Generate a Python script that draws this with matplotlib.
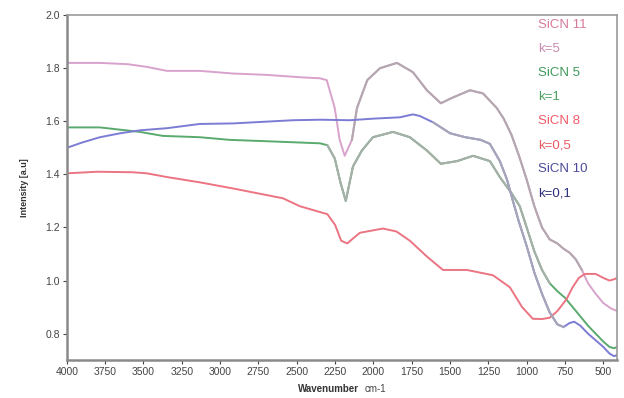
import numpy as np
import matplotlib
matplotlib.use('Agg')
from matplotlib import pyplot as plt

plt.rcParams['font.family'] = ['Liberation Sans', 'DejaVu Sans']

# SiCN 11, k=5
wn_11 = [4000, 3784, 3600, 3478, 3347, 3132, 2916, 2700, 2479, 2348, 2304, 2252, 2220, 2187,
         2140, 2107, 2040, 1957, 1846, 1742, 1651, 1560, 1480, 1370, 1285, 1195, 1150, 1100,
         1050, 1000, 950, 900, 850, 800, 760, 720, 680, 640, 600, 550, 500, 450, 410]
int_11 = [1.82, 1.82, 1.815, 1.805, 1.79, 1.79, 1.78, 1.775, 1.766, 1.762, 1.755, 1.65, 1.53, 1.47,
          1.53, 1.65, 1.755, 1.80, 1.82, 1.785, 1.717, 1.668, 1.69, 1.717, 1.705, 1.65, 1.61, 1.55,
          1.47, 1.38, 1.28, 1.20, 1.155, 1.14, 1.12, 1.105, 1.08, 1.04, 0.99, 0.95, 0.915, 0.895, 0.885]

# SiCN 5, k=1
wn_5 = [4000, 3784, 3523, 3373, 3132, 2936, 2700, 2479, 2348, 2300, 2252, 2215, 2180, 2133,
        2075, 2003, 1872, 1762, 1651, 1560, 1454, 1350, 1240, 1175, 1100, 1045, 1000, 950,
        900, 850, 800, 750, 700, 650, 600, 550, 500, 460, 430, 410]
int_5 = [1.577, 1.577, 1.56, 1.545, 1.54, 1.53, 1.525, 1.52, 1.517, 1.51, 1.46, 1.37, 1.30, 1.43,
         1.49, 1.54, 1.56, 1.54, 1.49, 1.44, 1.45, 1.47, 1.45, 1.39, 1.33, 1.28, 1.20, 1.11,
         1.04, 0.99, 0.96, 0.935, 0.90, 0.865, 0.83, 0.80, 0.77, 0.75, 0.745, 0.75]

# SiCN 8, k=0,5
wn_8 = [4000, 3800, 3568, 3478, 3347, 3132, 2916, 2590, 2479, 2300, 2250, 2210, 2170, 2130,
        2088, 1938, 1850, 1762, 1650, 1546, 1390, 1220, 1110, 1030, 960, 900, 850, 800,
        740, 700, 660, 620, 550, 500, 460, 430, 410]
int_8 = [1.404, 1.41, 1.408, 1.404, 1.39, 1.37, 1.347, 1.31, 1.28, 1.25, 1.21, 1.15, 1.14, 1.16,
         1.18, 1.196, 1.185, 1.15, 1.09, 1.04, 1.04, 1.02, 0.975, 0.90, 0.856, 0.855, 0.86, 0.885,
         0.93, 0.975, 1.01, 1.025, 1.025, 1.01, 1.0, 1.005, 1.01]

# SiCN 10, k=0,1
wn_10 = [4000, 3900, 3784, 3650, 3523, 3347, 3132, 2916, 2525, 2348, 2153, 2000, 1827, 1742,
         1697, 1610, 1500, 1400, 1300, 1240, 1175, 1128, 1090, 1050, 1000, 950, 900, 850,
         800, 760, 720, 690, 650, 600, 550, 500, 460, 430, 410]
int_10 = [1.50, 1.52, 1.54, 1.555, 1.566, 1.574, 1.59, 1.592, 1.604, 1.606, 1.604, 1.61, 1.615, 1.626,
          1.62, 1.596, 1.555, 1.54, 1.53, 1.515, 1.45, 1.38, 1.30, 1.22, 1.13, 1.03, 0.95, 0.88,
          0.835, 0.825, 0.84, 0.845, 0.83, 0.80, 0.775, 0.75, 0.725, 0.715, 0.72]

names = ['SiCN 11', 'SiCN 5', 'SiCN 8', 'SiCN 10']
k_labels = ['k=5', 'k=1', 'k=0,5', 'k=0,1']

colors = ['#d8a2cc', '#5aaa6e', '#ec7482', '#7c7cd4']
faded = ['#b4a8b0', '#a6b0a8', None, '#a6a6b8']
fade_range = [(2170, 620), (2320, 820), None, (1660, 760)]
name_colors = ['#d87a9e', '#3f9a5c', '#f05a68', '#4a4a9a']
k_colors = ['#c98ab4', '#4fa060', '#e55a60', '#2e2e7a']

fig = plt.figure(figsize=(6.24, 3.98), dpi=100)
ax = fig.add_axes([0.107, 0.095, 0.882, 0.867])

series = [(wn_11, int_11), (wn_5, int_5), (wn_8, int_8), (wn_10, int_10)]
for i, (wn, it) in enumerate(series):
    wn = np.array(wn)
    it = np.array(it)
    ax.plot(wn, it, color=colors[i], lw=1.4, solid_joinstyle='round')
    if fade_range[i]:
        hi, lo = fade_range[i]
        m = (wn <= hi) & (wn >= lo)
        ax.plot(wn[m], it[m], color=faded[i], lw=1.5, solid_joinstyle='round')

ax.set_xlim(4000, 410)
ax.set_ylim(0.70, 2.0)
ax.set_xticks(np.arange(4000, 499, -250))
ax.set_yticks([0.8, 1.0, 1.2, 1.4, 1.6, 1.8, 2.0])
ax.tick_params(labelsize=7.5, colors='#444444', length=3, width=0.8, pad=2)

for s in ['left', 'bottom']:
    ax.spines[s].set_color('#8a8a8a')
    ax.spines[s].set_linewidth(1.8)
for s in ['top', 'right']:
    ax.spines[s].set_color('#9a9a9a')
    ax.spines[s].set_linewidth(1.2)

ax.set_ylabel('Intensity [a.u]', fontsize=6.5, fontweight='bold', color='#333333', labelpad=12)
fig.text(0.477, 0.015, 'Wavenumber', fontsize=7, fontweight='bold', color='#333333')
fig.text(0.585, 0.015, 'cm-1', fontsize=7, color='#444444')

y0 = 0.971
for i in range(4):
    ax.text(0.856, y0 - (2 * i) * 0.0696, names[i], transform=ax.transAxes,
            fontsize=9.5, color=name_colors[i], va='center')
    ax.text(0.856, y0 - (2 * i + 1) * 0.0696, k_labels[i], transform=ax.transAxes,
            fontsize=9.5, color=k_colors[i], va='center')

fig.savefig('out.png', dpi=100)
